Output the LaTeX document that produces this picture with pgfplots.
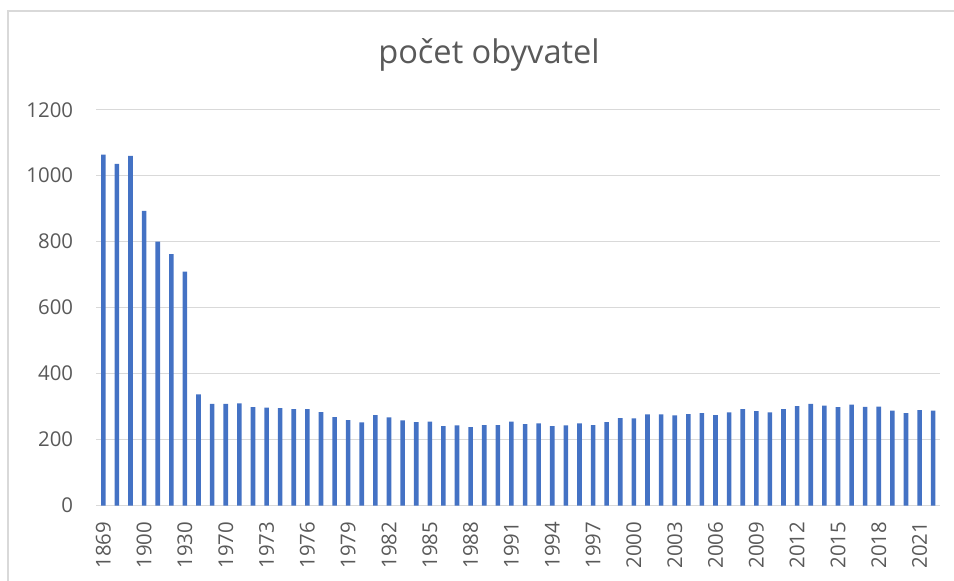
\documentclass[border=0pt]{standalone}
\usepackage{fontspec}
\setmainfont{Open Sans}
\usepackage{pgfplots}
\pgfplotsset{compat=1.18}
\definecolor{barblue}{HTML}{4472C4}
\definecolor{gridgray}{HTML}{D9D9D9}
\definecolor{txtgray}{HTML}{595959}
\begin{document}
\begin{tikzpicture}
\begin{axis}[
  at={(0,0)}, anchor=south west,
  scale only axis,
  width=421.75pt, height=197.9pt,
  xmin=-0.5, xmax=61.5,
  ymin=0, ymax=1200,
  ytick={0,200,...,1200},
  xtick={0,3,...,60},
  xticklabels={1869,1900,1930,1970,1973,1976,1979,1982,1985,1988,1991,1994,1997,2000,2003,2006,2009,2012,2015,2018,2021},
  axis line style={draw=none},
  major tick length=0pt,
  ymajorgrids,
  grid style={draw=gridgray, line width=0.65pt},
  /pgf/number format/assume math mode=true,
  /pgf/number format/1000 sep={},
  tick label style={font=\fontsize{10.2}{12}\selectfont, text=txtgray},
  yticklabel style={anchor=east, inner sep=0pt, xshift=-11.5pt},
  xticklabel style={yshift=-7.9pt, rotate=90, anchor=east, inner sep=0pt},
  ybar, bar width=2.3pt,
]
\addplot[fill=barblue, draw=none] coordinates {
(0,1064) (1,1036) (2,1060) (3,893) (4,800) (5,762) (6,709) (7,337) (8,308) (9,308)
(10,310) (11,298) (12,297) (13,295) (14,292) (15,292) (16,283) (17,268) (18,259) (19,252)
(20,274) (21,267) (22,258) (23,253) (24,254) (25,241) (26,243) (27,238) (28,244) (29,244)
(30,254) (31,247) (32,249) (33,241) (34,243) (35,249) (36,244) (37,253) (38,265) (39,264)
(40,276) (41,276) (42,273) (43,277) (44,280) (45,274) (46,282) (47,292) (48,286) (49,282)
(50,292) (51,301) (52,308) (53,303) (54,298) (55,306) (56,299) (57,300) (58,288) (59,280)
(60,289) (61,288)
};
\end{axis}
\draw[gridgray, line width=0.65pt] (-44.25pt,-60pt) -- (-44.25pt,247.25pt) -- (450pt,247.25pt);
\node[anchor=base, text=txtgray, font=\fontsize{16.3}{19}\selectfont, inner sep=0pt] at (196.25pt,221pt) {počet obyvatel};
\pgfresetboundingbox
\useasboundingbox (-48.25pt,-37.25pt) rectangle (428.75pt,252.75pt);
\end{tikzpicture}
\end{document}
